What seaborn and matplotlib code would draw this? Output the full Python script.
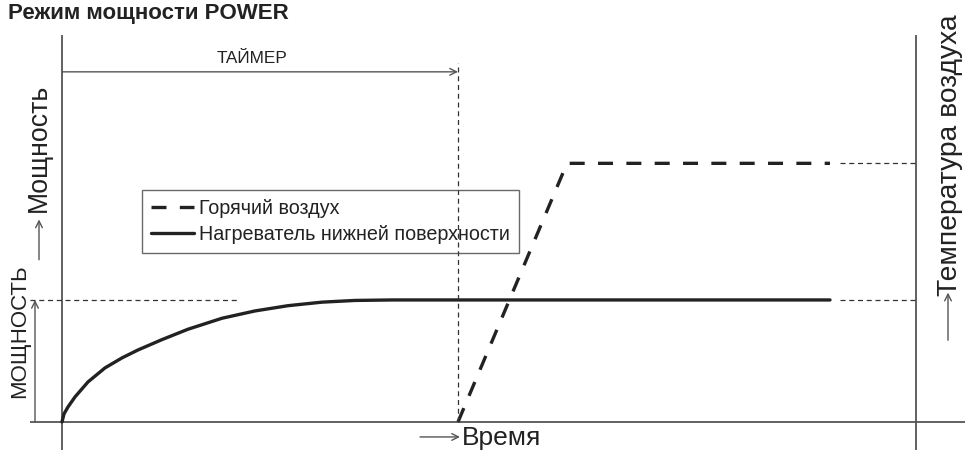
import numpy as np
import pandas as pd
import seaborn as sns
import matplotlib.pyplot as plt

# heater (bottom surface) power curve, % of its level
heater_t = [0, 2, 6, 13, 26, 43, 60, 76, 100, 126, 160, 193, 226, 260, 293, 330, 768]
heater_p = [0, 6.6, 12.3, 20.5, 32.8, 44.3, 52.5, 59, 67.5, 76, 85, 91, 95.3,
            98.2, 99.6, 100, 100]

# hot air power curve
air_t = [396, 505, 768]
air_p = [0, 212, 212]

timer_end = 396
t_right = 854
heater_level = 100
air_level = 212

title = "Режим мощности POWER"
legend_labels = ["Горячий воздух", "Нагреватель нижней поверхности"]

sns.set_theme(style="white")
plt.rcParams["font.family"] = ["Liberation Sans", "DejaVu Sans"]
plt.rcParams["text.color"] = "#222222"

fig = plt.figure(figsize=(9.65, 4.51), dpi=100)
# axes spans pixel x 30..965, y 35..450 (from top)
ax = fig.add_axes([30 / 965, 1 / 451, 935 / 965, 415 / 451])
ax.set_xlim(-32, 903)
ax.set_ylim(-23, 317.2)
ax.axis("off")

ink = "#222222"
axis_c = "#555555"

# axis lines
ax.axhline(0, color=axis_c, lw=1.3)
ax.axvline(0, color=axis_c, lw=1.3)
ax.axvline(t_right, color=axis_c, lw=1.3)

# curves
df_h = pd.DataFrame({"t": heater_t, "p": heater_p})
df_a = pd.DataFrame({"t": air_t, "p": air_p})
sns.lineplot(data=df_h, x="t", y="p", ax=ax, color=ink, lw=2.4, label=legend_labels[1])
sns.lineplot(data=df_a, x="t", y="p", ax=ax, color=ink, lw=2.4,
             linestyle=(0, (4.5, 4)), label=legend_labels[0])

# thin dashed guide lines
thin = dict(color="#333333", lw=0.9, linestyle=(0, (4, 3)))
ax.plot([-32, 175], [heater_level, heater_level], **thin)
ax.plot([778, t_right], [heater_level, heater_level], **thin)
ax.plot([778, t_right], [air_level, air_level], **thin)
ax.plot([timer_end, timer_end], [0, 294], **thin)

# timer arrow
arr = dict(arrowstyle="->", color="#555555", lw=1.0, shrinkA=0, shrinkB=0)
ax.annotate("", xy=(timer_end, 287), xytext=(0, 287), arrowprops=arr)
ax.text(190, 294.5, "ТАЙМЕР", ha="center", va="baseline", fontsize=12.4)

# time arrow
ax.annotate("", xy=(398, -12.3), xytext=(358, -12.3), arrowprops=arr)
ax.text(400, -18.9, "Время", ha="left", va="baseline", fontsize=19)

# left labels
ax.annotate("", xy=(-27, heater_level), xytext=(-27, 0), arrowprops=arr)
ax.text(-42, 74, "МОЩНОСТЬ", rotation=90, ha="center", va="center", fontsize=16)
ax.annotate("", xy=(-23, 166), xytext=(-23, 133), arrowprops=arr)
ax.text(-23, 225, "Мощность", rotation=90, ha="center", va="center", fontsize=19.2)

# right label
ax.annotate("", xy=(886, 106), xytext=(886, 67), arrowprops=arr)
ax.text(888, 219, "Температура воздуха", rotation=90, ha="center", va="center",
        fontsize=20.3)

# legend
h, l = ax.get_legend_handles_labels()
leg = ax.legend(h[::-1], l[::-1], loc="upper left", bbox_to_anchor=(80, 190.2),
                bbox_transform=ax.transData, fontsize=14.2, frameon=True,
                fancybox=False, handlelength=2.2, handletextpad=0.25,
                borderpad=0.45, labelspacing=0.35, borderaxespad=0)
leg.get_frame().set_edgecolor("#444444")
leg.get_frame().set_facecolor("none")
leg.get_frame().set_linewidth(1.0)

fig.text(8 / 965, 1 - 18.5 / 451, title, ha="left", va="baseline", fontsize=16,
         fontweight="bold")

fig.savefig("out.png", dpi=100)
